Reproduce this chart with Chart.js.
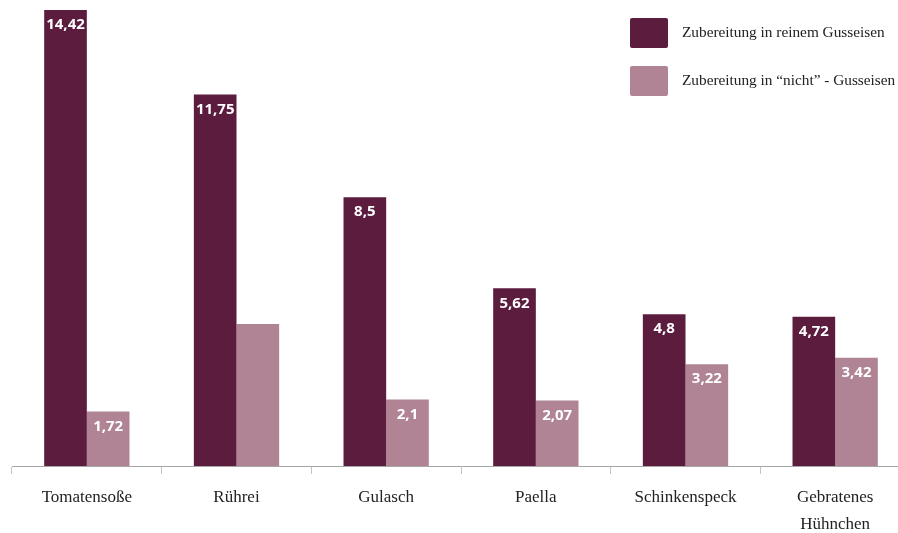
<!DOCTYPE html>
<html><head><meta charset="utf-8">
<script src="https://cdn.jsdelivr.net/npm/chart.js@4"></script>
<style>html,body{margin:0;padding:0;overflow:hidden;background:#fff;width:898px;height:533px}#wrap{position:absolute;left:0;top:0;width:920px;height:533px}</style>
</head><body>
<div id="wrap"><canvas id="c" width="920" height="533"></canvas></div>
<script>
const categories = ["Tomatensoße", "Rührei", "Gulasch", "Paella", "Schinkenspeck", ["Gebratenes", "Hühnchen"]];
const seriesNames = ["Zubereitung in reinem Gusseisen", "Zubereitung in \u201cnicht\u201d - Gusseisen"];
const castIronValues = [14.42, 11.75, 8.5, 5.62, 4.8, 4.72];
const otherValues = [1.72, 4.49, 2.1, 2.07, 3.22, 3.42];
const castIronLabels = ["14,42", "11,75", "8,5", "5,62", "4,8", "4,72"];
const otherLabels = ["1,72", "", "2,1", "2,07", "3,22", "3,42"];
const colors = ["#5b1c3d", "#b08494"];

const valueLabels = {
  id: 'valueLabels',
  afterDatasetsDraw(chart) {
    const ctx = chart.ctx;
    const lbls = [castIronLabels, otherLabels];
    ctx.save();
    ctx.fillStyle = '#ffffff';
    ctx.font = 'bold 15px "Open Sans", sans-serif';
    ctx.textAlign = 'center';
    ctx.textBaseline = 'middle';
    chart.data.datasets.forEach((ds, di) => {
      chart.getDatasetMeta(di).data.forEach((bar, i) => {
        const t = lbls[di][i];
        if (t) ctx.fillText(t, bar.x, bar.y + 15);
      });
    });
    ctx.restore();
  }
};

const customLegend = {
  id: 'customLegend',
  afterDraw(chart) {
    const ctx = chart.ctx;
    ctx.save();
    chart.data.datasets.forEach((ds, i) => {
      const y = 18 + i * 48;
      ctx.fillStyle = ds.backgroundColor;
      ctx.beginPath();
      ctx.roundRect(630, y, 38, 30, 2);
      ctx.fill();
      ctx.fillStyle = '#222';
      ctx.font = '15.3px "Liberation Serif", serif';
      ctx.textAlign = 'left';
      ctx.textBaseline = 'middle';
      ctx.fillText(ds.label, 682, y + 15);
    });
    ctx.restore();
  }
};

new Chart(document.getElementById('c'), {
  type: 'bar',
  data: {
    labels: categories,
    datasets: [
      { label: seriesNames[0], data: castIronValues, backgroundColor: colors[0], barPercentage: 1, categoryPercentage: 0.57 },
      { label: seriesNames[1], data: otherValues, backgroundColor: colors[1], barPercentage: 1, categoryPercentage: 0.57 }
    ]
  },
  options: {
    responsive: false,
    animation: false,
    devicePixelRatio: 1,
    layout: { padding: { left: 12, right: 10, top: 10, bottom: 0 } },
    plugins: { legend: { display: false }, tooltip: { enabled: false } },
    scales: {
      y: { display: false, min: 0, max: 14.42 },
      x: {
        afterFit(s) { s.height = 67; },
        border: { display: true, color: '#a6a6a6', width: 1 },
        grid: { display: true, offset: true, drawOnChartArea: false, drawTicks: true, tickLength: 8, color: '#c4c4c4' },
        ticks: { color: '#222', padding: 10, font: { family: '"Liberation Serif", serif', size: 17, lineHeight: 1.6 } }
      }
    }
  },
  plugins: [valueLabels, customLegend]
});
</script>
</body></html>
